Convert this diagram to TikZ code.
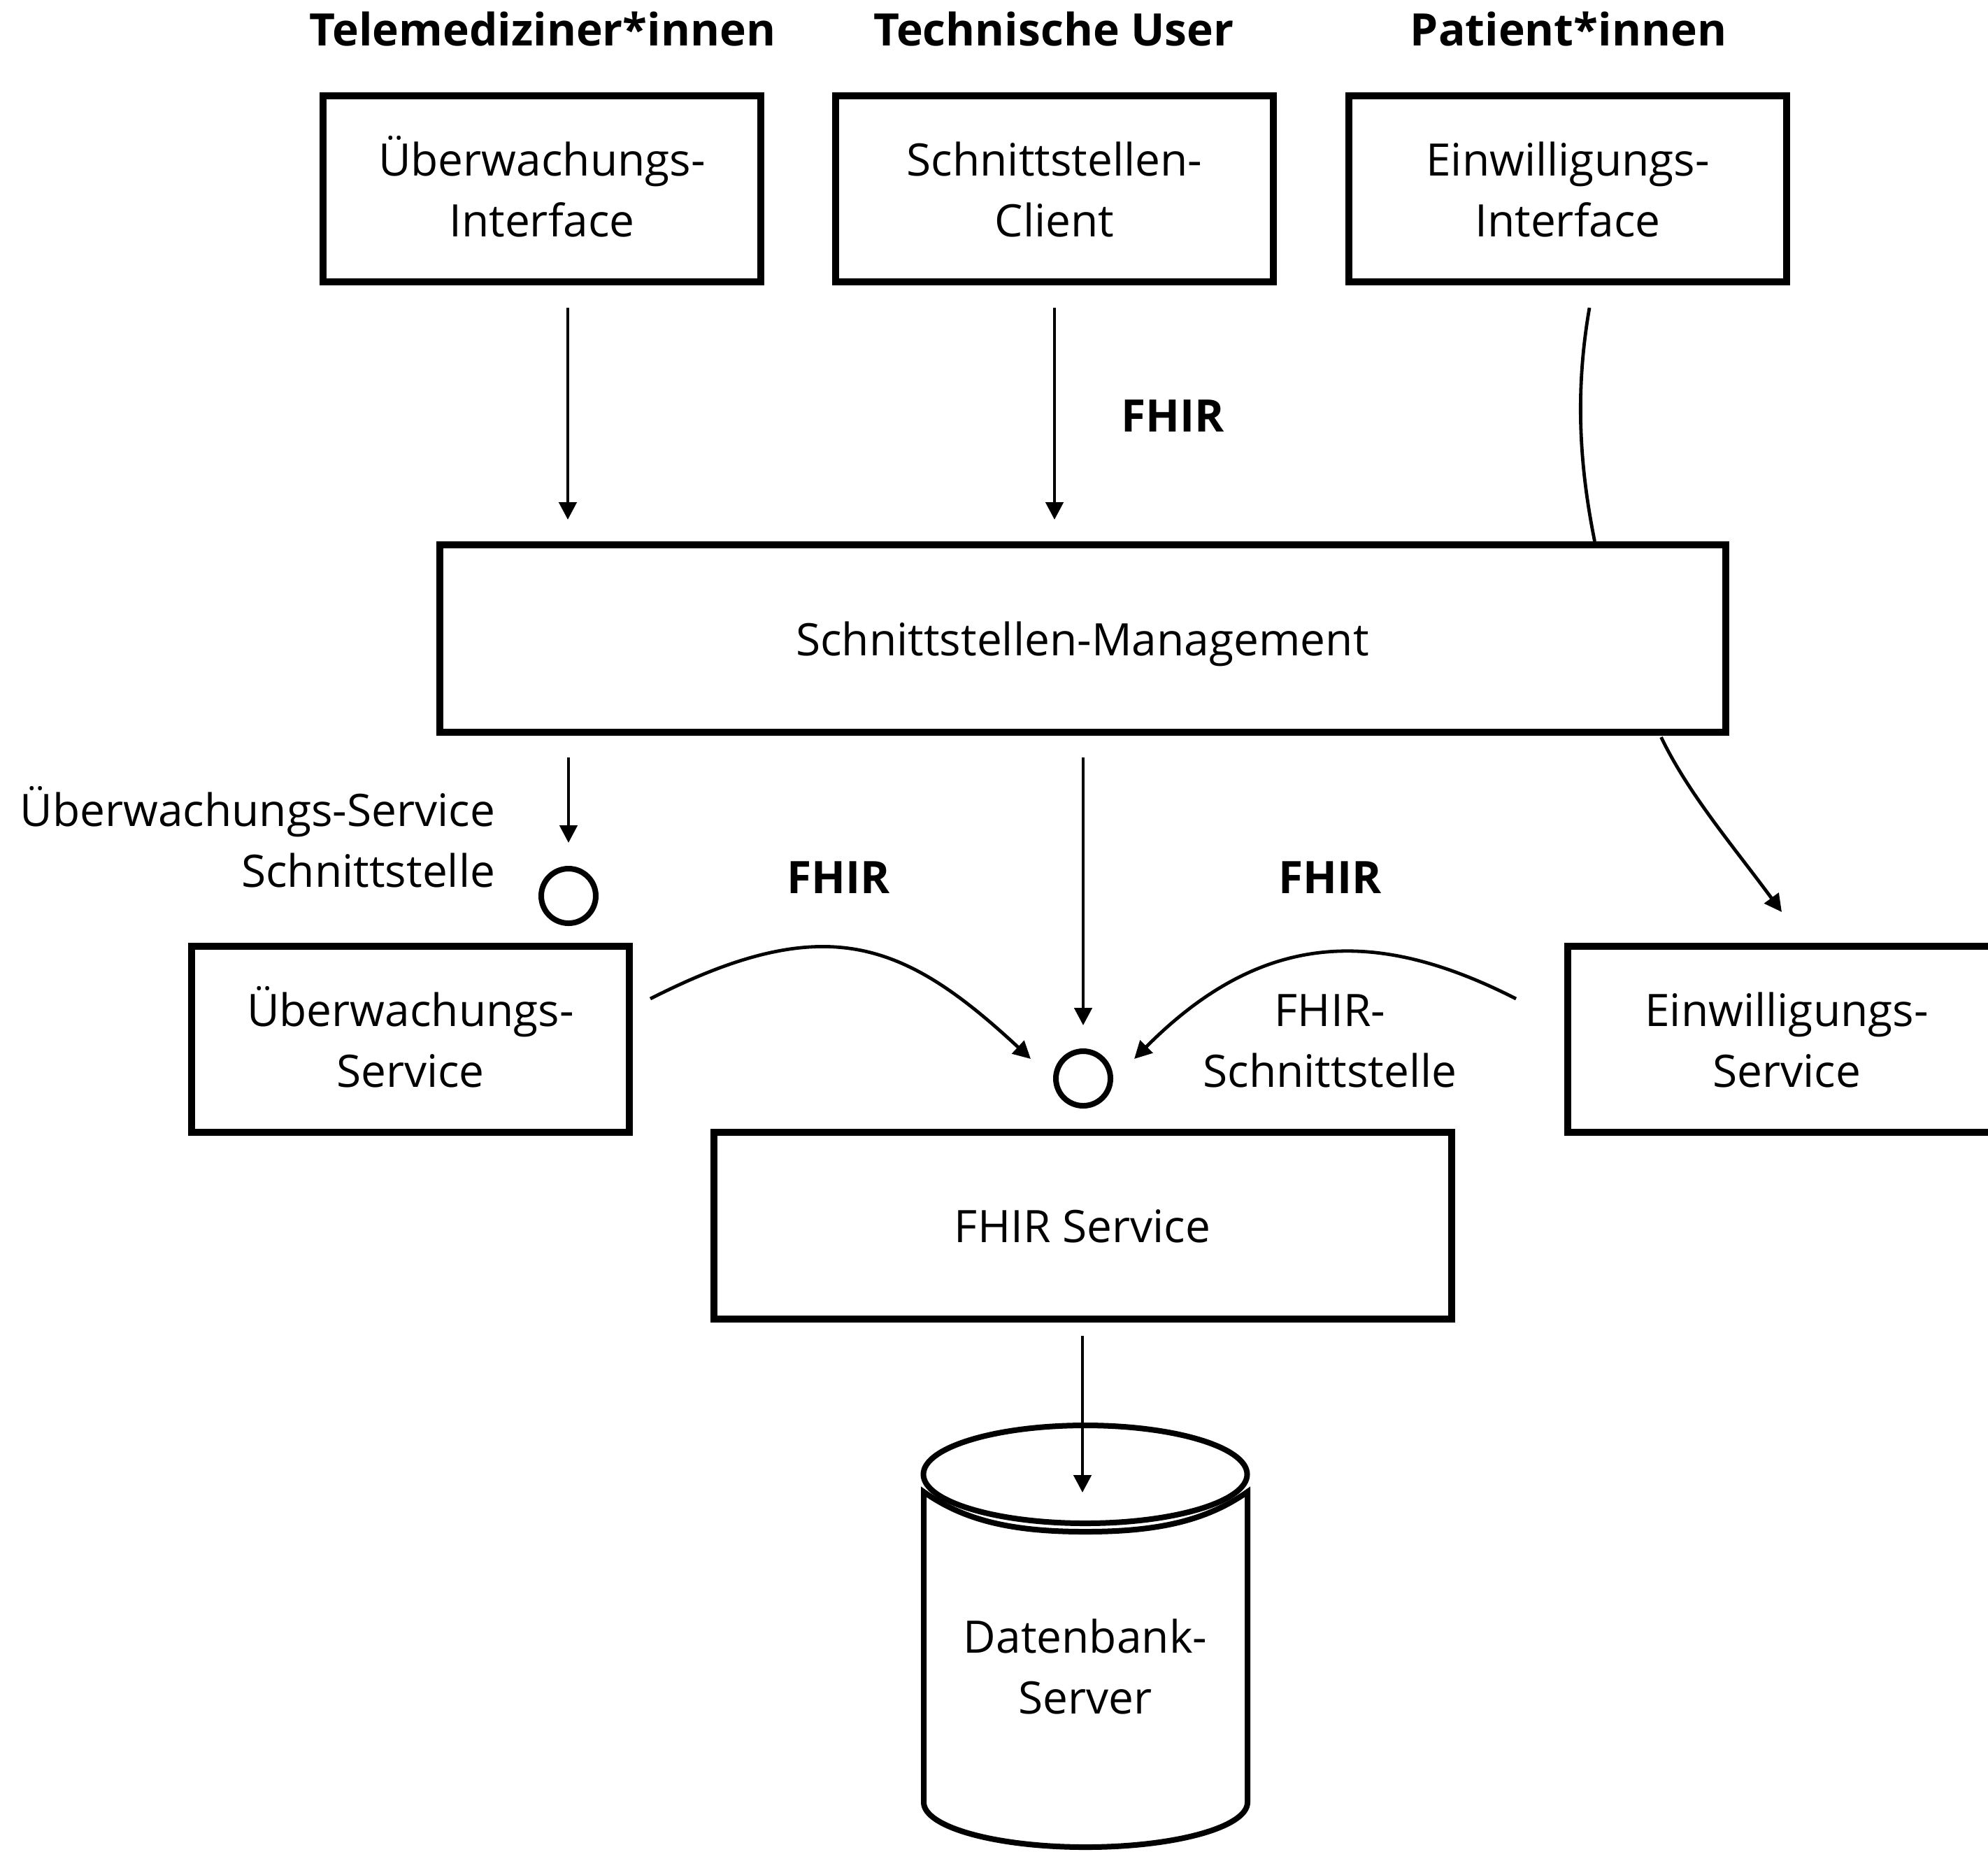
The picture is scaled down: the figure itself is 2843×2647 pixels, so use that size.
\documentclass[tikz,border=0pt]{standalone}
\usepackage{fontspec}
\setmainfont{Open Sans}
\usetikzlibrary{arrows.meta}
\newcommand{\ls}{\rule[-4.7pt]{0pt}{21.7pt}}
\newcommand{\txtfont}{\fontsize{16pt}{21.75pt}\selectfont}
\newcommand{\boldfont}{\fontsize{16pt}{21.75pt}\selectfont\bfseries}
\begin{document}
\begin{tikzpicture}[x=0.25pt,y=-0.25pt,
  box/.style={draw, line width=2.5pt, minimum width=156.5pt, minimum height=66.5pt, inner sep=0pt, align=center, font=\txtfont},
  port/.style={draw, circle, line width=2pt, minimum size=19.5pt, inner sep=0pt},
  lbl/.style={inner sep=0pt, font=\txtfont},
  blbl/.style={inner sep=0pt, font=\boldfont},
  conn/.style={line width=1.2pt},
  arr/.style={line width=1.2pt, -{Triangle[length=6.25pt,width=6.25pt]}},
  cyl/.style={line width=2pt, line join=miter}]
\useasboundingbox (0,0) rectangle (2843,2647);

% titles
\node[blbl] (t1) at (776,41) {\ls Telemediziner*innen};
\node[blbl] (t2) at (1507,41) {\ls Technische User};
\node[blbl] (t3) at (2243,41) {\ls Patient*innen};

% top boxes
\node[box] (A) at (775,270) {\ls Überwachungs-\\\ls Interface};
\node[box] (B) at (1508,270) {\ls Schnittstellen-\\\ls Client};
\node[box] (C) at (2242,270) {\ls Einwilligungs-\\\ls Interface};

% management
\node[box, minimum width=459.75pt, minimum height=67pt] (D) at (1548,913) {\ls Schnittstellen-Management};

% services
\node[box] (E) at (587,1486) {\ls Überwachungs-\\\ls Service};
\node[box] (F) at (2555,1486) {\ls Einwilligungs-\\\ls Service};
\node[box, minimum width=263.75pt, minimum height=66.75pt] (G) at (1548,1752) {\ls FHIR Service};

% ports
\node[port] (c1) at (813,1281) {};
\node[port] (c2) at (1549,1542) {};

% labels
\node[blbl] (f1) at (1677,593) {\ls FHIR};
\node[blbl] (f2) at (1199,1253) {\ls FHIR};
\node[blbl] (f3) at (1902,1253) {\ls FHIR};
\node[lbl, align=right, anchor=east] (l1) at (709,1200) {\ls Überwachungs-Service\\\ls Schnittstelle};
\node[lbl, align=center] (l2) at (1902,1486) {\ls FHIR-\\\ls Schnittstelle};

% database cylinder
\draw[cyl] (1552,2108) ellipse [x radius=57.875pt, y radius=17.5pt];
\draw[cyl] (1321,2133) .. controls (1380,2175) and (1450,2190) .. (1552,2190)
  .. controls (1654,2190) and (1724,2175) .. (1784,2133) -- (1784,2577)
  arc[start angle=0, end angle=-180, x radius=57.875pt, y radius=16pt] -- cycle;
\node[lbl, align=center] (db) at (1552,2382) {\ls Datenbank-\\\ls Server};
\coordinate (dbtop) at (1548,2134);

% connectors
\draw[arr, shorten <=8pt, shorten >=7.75pt] ([xshift=9.25pt]A.south) -- ([xshift=9.25pt]A.south |- D.north);
\draw[arr, shorten <=8pt, shorten >=7.75pt] (B.south) -- (B.south |- D.north);
\draw[conn] ([xshift=7.75pt,yshift=-8pt]C.south) .. controls +(-20,115) and +(-23,-114) .. ([xshift=-48pt]D.north east);
\draw[arr, shorten <=7.75pt, shorten >=8.25pt] (c1 |- D.south) -- (c1.north);
\draw[arr, shorten <=7.75pt, shorten >=8.25pt] (c2 |- D.south) -- (c2.north);
\draw[arr] ([xshift=-24.25pt,yshift=-0.5pt]D.south east) .. controls +(39,81) and +(-70,-95) .. ([xshift=-1.75pt,yshift=11pt]F.north);
\draw[arr] ([xshift=6.25pt,yshift=14.5pt]E.east) .. controls +(250,-127) and +(-183,-170) .. ([xshift=-18.75pt,yshift=7pt]c2.center);
\draw[arr] ([xshift=-17.25pt,yshift=14.5pt]F.west) .. controls +(-200,-102) and +(183,-184) .. ([xshift=18.25pt,yshift=7pt]c2.center);
\draw[arr, shorten <=4.75pt] (G.south) -- (G.south |- dbtop);
\end{tikzpicture}
\end{document}
